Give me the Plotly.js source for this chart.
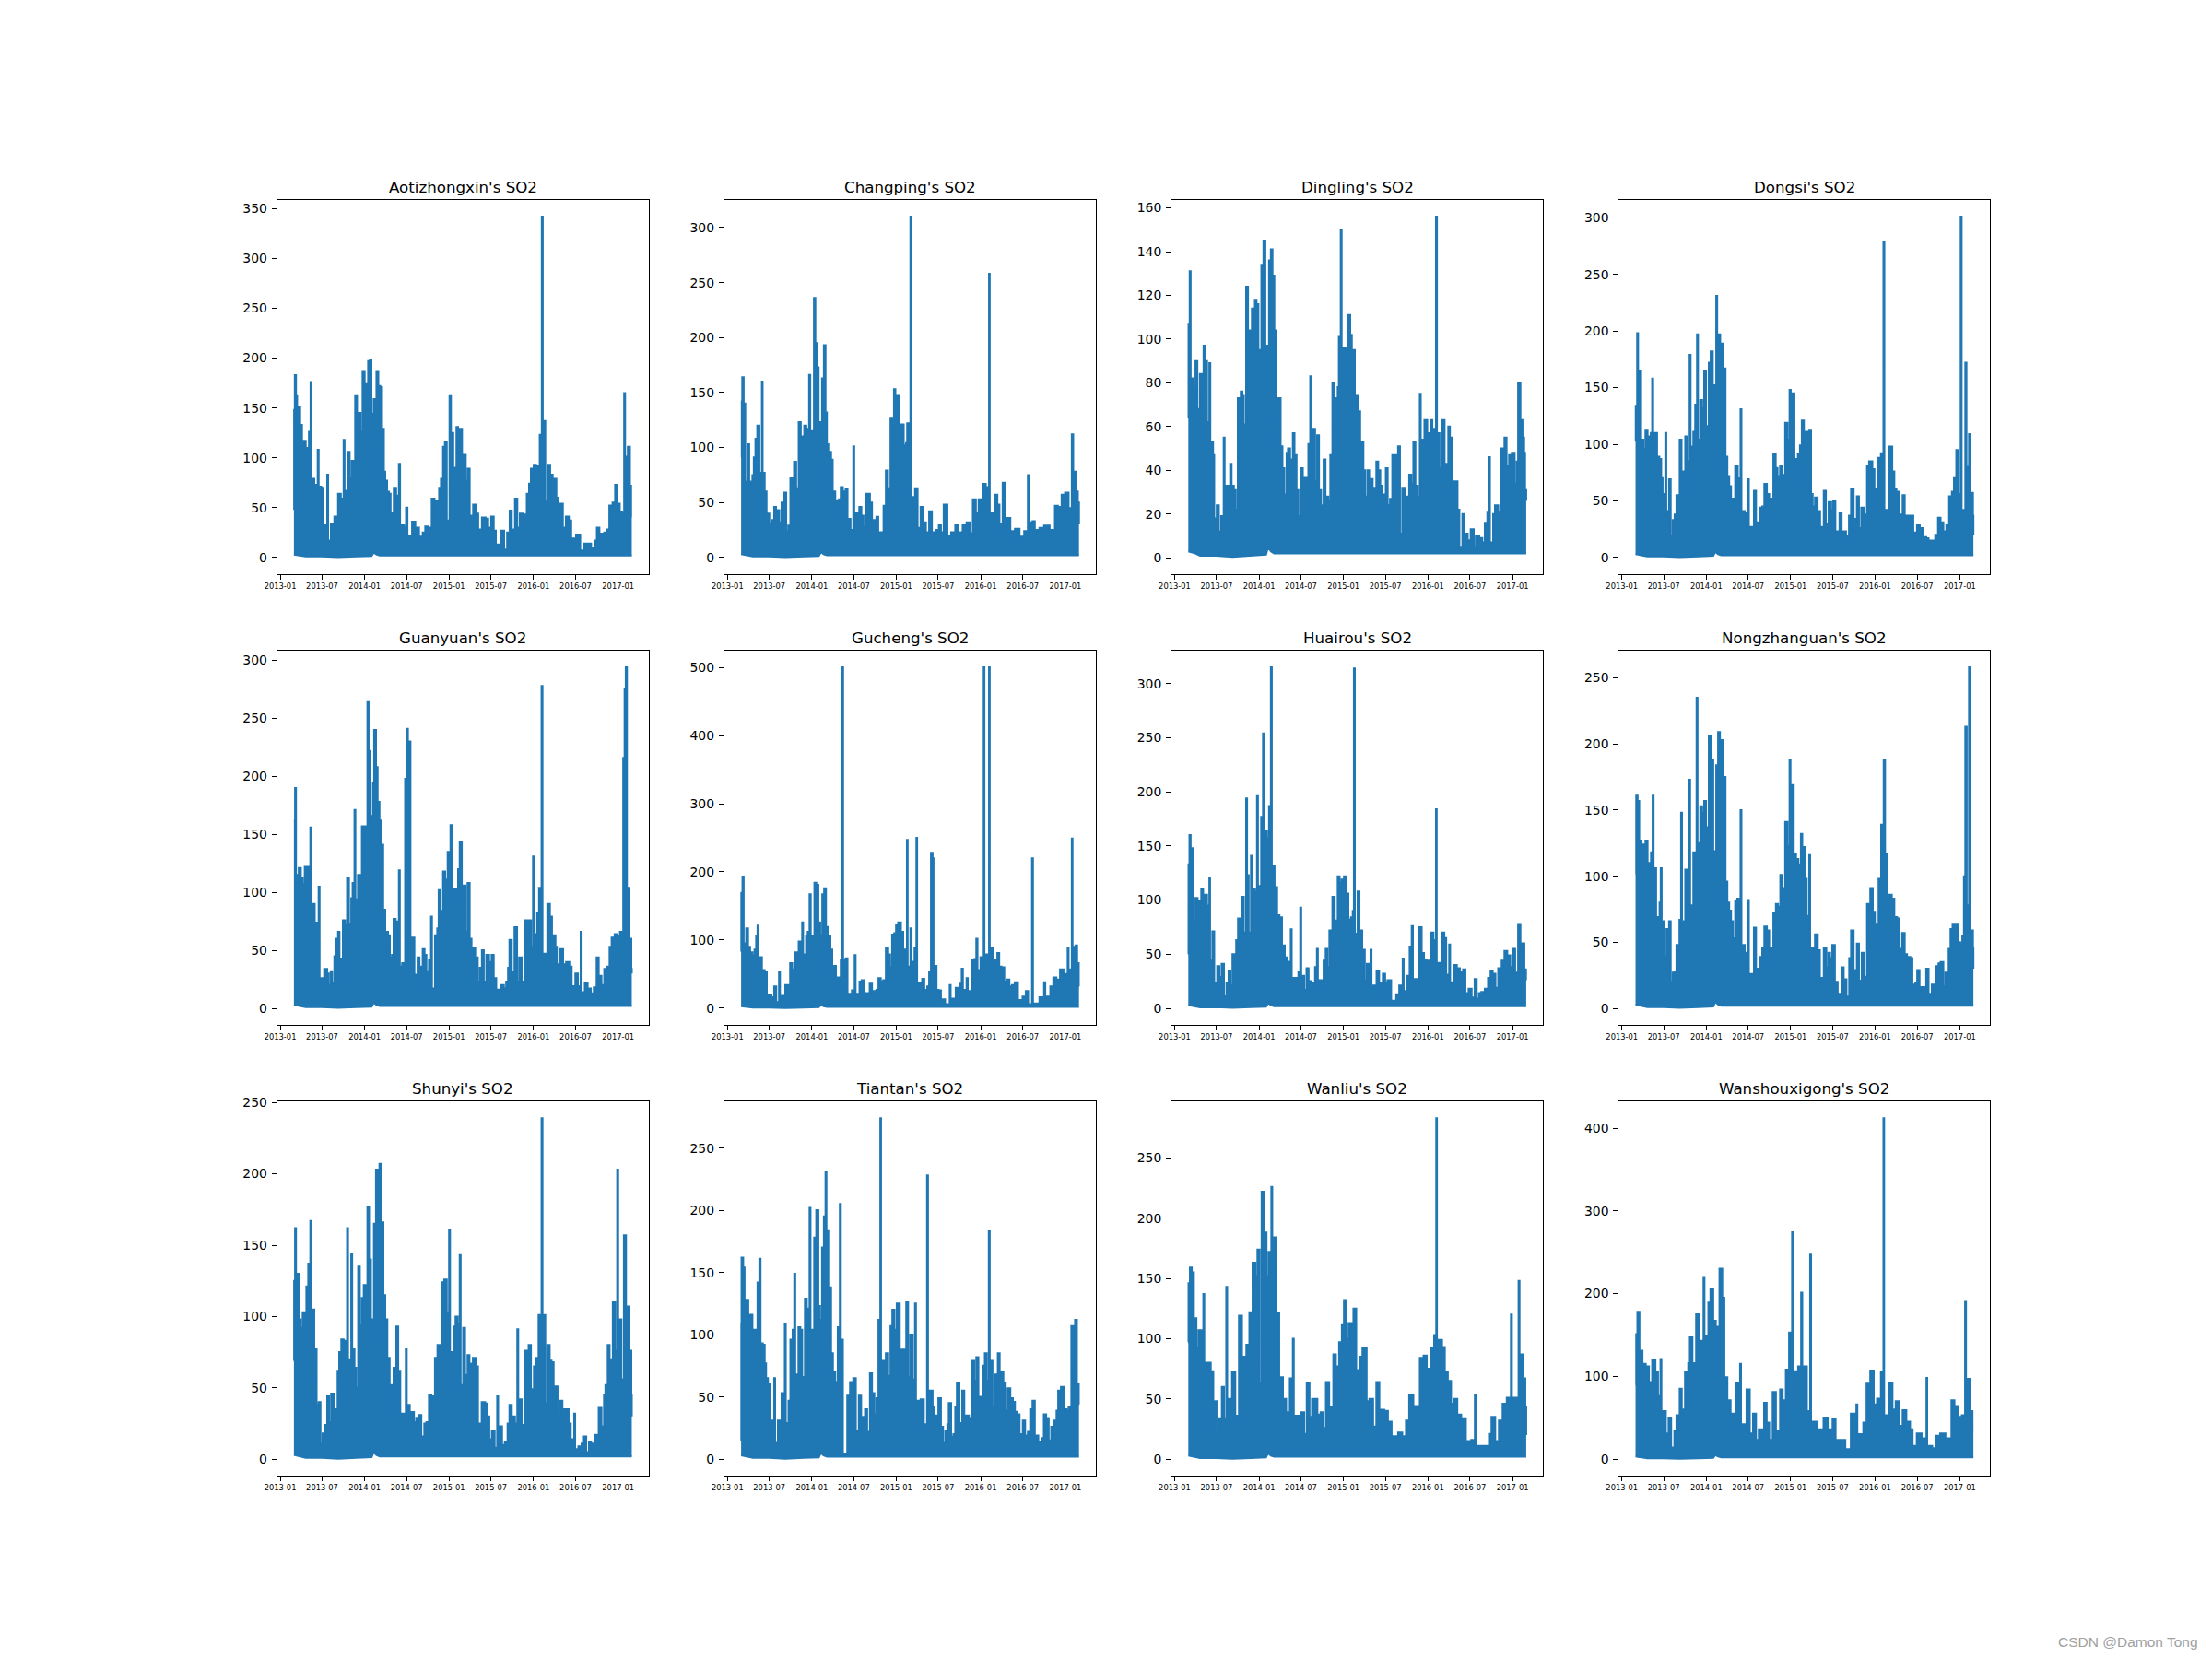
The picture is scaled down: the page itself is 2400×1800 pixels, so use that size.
<!DOCTYPE html>
<html><head><meta charset="utf-8">
<script src="https://cdn.plot.ly/plotly-3.0.1.min.js"></script>
<style>html,body{margin:0;padding:0;background:#fff}#chart{width:2400px;height:1800px}</style>
</head><body><div id="chart"></div>
<script>
// Upper envelope of each station's hourly SO2: [days since 2013-01-01, value]
const aotizhongxinPeaks=[[59,48],[60,148],[63,183],[68,162],[73,140],[80,151],[86,133],[94,79],[101,117],[110,110],[117,103],[124,126],[131,176],[134,79],[138,79],[147,73],[155,71],[162,108],[166,71],[177,70],[185,27],[193,33],[203,83],[207,17],[219,34],[234,41],[242,25],[250,64],[262,59],[274,118],[278,67],[291,106],[300,80],[309,97],[316,86],[324,162],[332,110],[339,145],[347,126],[356,187],[365,148],[372,174],[380,197],[388,198],[394,144],[404,159],[416,187],[424,172],[432,171],[440,129],[448,86],[454,77],[462,66],[470,64],[477,45],[491,70],[501,62],[513,94],[518,33],[535,30],[544,50],[550,22],[570,36],[584,30],[600,21],[616,25],[627,31],[641,30],[655,59],[667,40],[673,57],[687,70],[695,79],[704,111],[712,116],[720,37],[732,162],[738,125],[748,90],[762,131],[769,113],[777,129],[786,76],[793,103],[802,77],[811,89],[819,42],[834,53],[845,44],[856,28],[872,40],[888,39],[899,30],[912,41],[923,27],[932,13],[955,27],[968,8],[981,25],[992,47],[1001,28],[1015,59],[1025,30],[1036,44],[1048,29],[1058,43],[1066,64],[1076,74],[1084,89],[1096,93],[1106,74],[1114,92],[1122,123],[1131,342],[1135,137],[1146,56],[1157,93],[1167,83],[1178,62],[1186,79],[1194,60],[1202,39],[1211,54],[1222,30],[1235,41],[1248,37],[1258,19],[1279,23],[1297,7],[1315,14],[1331,14],[1344,10],[1359,17],[1369,30],[1380,24],[1393,11],[1401,25],[1414,28],[1423,52],[1437,55],[1448,73],[1457,54],[1468,46],[1478,45],[1487,165],[1491,101],[1503,111],[1512,72],[1517,41],[1520,41]];
const changpingPeaks=[[59,91],[62,142],[64,164],[70,140],[77,69],[88,103],[94,63],[101,69],[108,75],[114,91],[121,108],[129,120],[138,77],[149,160],[152,77],[161,60],[169,35],[174,40],[181,31],[191,34],[202,46],[210,35],[216,43],[224,32],[234,50],[246,59],[254,24],[263,29],[272,72],[280,63],[288,87],[297,63],[308,123],[317,110],[332,120],[341,117],[353,166],[358,115],[374,236],[380,195],[386,173],[394,123],[404,113],[409,163],[417,193],[424,132],[430,103],[440,96],[448,89],[455,60],[466,52],[474,42],[482,53],[490,64],[499,60],[511,62],[519,35],[532,25],[544,101],[548,41],[570,46],[579,38],[588,28],[600,58],[616,50],[625,34],[644,37],[652,23],[675,47],[685,79],[694,63],[705,127],[713,105],[720,153],[726,105],[732,147],[740,105],[750,121],[762,102],[772,104],[777,122],[785,63],[791,310],[795,55],[811,63],[822,27],[835,46],[846,32],[858,23],[872,42],[884,23],[900,25],[914,30],[923,23],[935,48],[951,20],[967,23],[977,11],[985,30],[997,23],[1017,30],[1034,32],[1050,22],[1061,53],[1074,41],[1086,53],[1097,45],[1106,67],[1117,64],[1126,59],[1131,258],[1134,41],[1155,57],[1167,48],[1176,31],[1190,68],[1200,24],[1210,36],[1223,24],[1243,26],[1263,19],[1283,24],[1299,75],[1303,32],[1319,33],[1329,25],[1349,27],[1369,29],[1393,25],[1416,47],[1429,46],[1445,57],[1460,59],[1475,45],[1489,112],[1495,78],[1505,60],[1515,50],[1520,30]];
const dinglingPeaks=[[59,64],[60,107],[65,131],[69,82],[81,78],[90,90],[98,68],[109,84],[117,77],[125,97],[131,90],[140,62],[150,89],[154,53],[166,47],[171,18],[182,24],[191,12],[201,19],[212,55],[216,33],[232,28],[240,43],[246,33],[256,31],[264,22],[273,73],[280,54],[286,76],[293,74],[299,61],[309,124],[317,92],[323,104],[334,114],[340,99],[347,118],[354,116],[362,87],[370,95],[375,134],[384,145],[392,97],[400,83],[408,136],[416,141],[423,129],[431,104],[439,73],[448,73],[458,51],[466,41],[474,29],[484,48],[490,50],[499,45],[511,57],[518,47],[527,31],[535,19],[545,41],[554,37],[570,36],[578,52],[586,83],[589,59],[599,59],[607,35],[616,56],[624,31],[633,24],[644,45],[652,28],[664,26],[673,47],[682,80],[689,73],[697,63],[705,78],[710,101],[718,150],[722,96],[733,96],[741,87],[750,111],[759,102],[766,82],[773,95],[779,74],[791,67],[802,52],[810,53],[816,40],[823,28],[833,40],[841,36],[856,32],[864,21],[872,44],[880,40],[889,33],[898,29],[913,41],[921,24],[931,27],[941,47],[951,47],[958,45],[966,51],[974,11],[984,32],[995,27],[1004,28],[1014,38],[1023,34],[1032,53],[1041,33],[1051,28],[1060,75],[1064,54],[1080,63],[1092,57],[1098,51],[1106,63],[1114,59],[1124,59],[1130,156],[1134,57],[1145,41],[1155,63],[1167,43],[1175,31],[1183,60],[1190,55],[1199,31],[1208,35],[1223,22],[1231,5],[1244,20],[1253,11],[1267,8],[1280,13],[1293,5],[1302,10],[1317,9],[1330,7],[1341,16],[1352,21],[1359,46],[1363,7],[1377,20],[1385,24],[1399,21],[1413,50],[1426,55],[1435,42],[1446,47],[1458,48],[1470,34],[1479,44],[1485,80],[1495,63],[1504,55],[1511,48],[1515,31],[1520,26]];
const dongsiPeaks=[[59,103],[60,134],[66,198],[70,165],[83,104],[93,96],[102,112],[111,107],[118,89],[125,110],[131,158],[135,110],[152,89],[162,87],[170,71],[176,56],[182,29],[188,110],[192,41],[204,69],[211,19],[220,33],[228,38],[236,55],[244,38],[250,104],[258,76],[266,60],[274,107],[282,85],[293,179],[297,98],[309,111],[317,135],[325,197],[329,104],[339,139],[347,132],[356,165],[364,116],[376,172],[384,182],[393,127],[400,152],[408,231],[412,197],[425,179],[432,189],[439,167],[448,89],[456,72],[464,63],[472,50],[480,52],[490,81],[501,70],[513,131],[517,41],[531,39],[545,69],[549,27],[571,59],[580,31],[595,44],[607,45],[616,65],[627,56],[637,34],[645,52],[655,91],[665,79],[673,72],[684,81],[693,73],[706,119],[716,104],[725,148],[730,104],[737,145],[746,87],[761,91],[770,99],[778,121],[787,67],[793,111],[802,68],[810,112],[818,56],[825,45],[835,53],[846,41],[857,27],[873,59],[882,30],[894,49],[905,42],[914,50],[923,23],[933,10],[941,39],[950,23],[958,23],[969,19],[982,37],[991,61],[1002,34],[1016,54],[1025,26],[1035,44],[1045,38],[1055,29],[1060,81],[1069,85],[1083,78],[1092,61],[1101,39],[1109,88],[1120,92],[1131,279],[1135,42],[1155,98],[1169,76],[1178,61],[1187,58],[1198,38],[1214,55],[1223,37],[1240,37],[1249,37],[1260,22],[1276,29],[1288,26],[1302,18],[1316,17],[1326,15],[1340,15],[1355,20],[1367,35],[1378,31],[1390,23],[1403,29],[1415,54],[1427,58],[1436,71],[1446,95],[1455,56],[1465,301],[1469,42],[1485,172],[1490,80],[1501,109],[1506,57],[1518,37],[1520,20]];
const guanyuanPeaks=[[59,162],[64,190],[68,115],[80,121],[89,112],[97,107],[106,122],[113,107],[121,122],[130,156],[134,90],[149,74],[157,74],[166,105],[170,26],[190,34],[203,30],[209,20],[218,32],[224,22],[234,45],[243,60],[250,66],[256,23],[263,43],[271,76],[280,72],[289,112],[297,73],[307,95],[313,108],[321,171],[325,94],[336,115],[344,115],[353,157],[364,156],[372,157],[377,264],[382,222],[389,157],[397,166],[401,194],[406,240],[414,208],[421,178],[429,162],[437,141],[445,85],[454,66],[466,63],[474,44],[483,46],[490,77],[499,75],[507,36],[513,119],[517,36],[527,39],[534,31],[540,198],[548,241],[552,230],[559,230],[563,61],[580,29],[594,44],[602,22],[610,36],[616,51],[624,46],[632,32],[643,42],[652,79],[656,17],[669,63],[679,69],[685,102],[693,84],[704,118],[713,111],[724,135],[736,158],[742,97],[750,103],[761,95],[769,120],[776,143],[785,76],[791,106],[801,66],[810,108],[819,60],[827,42],[834,52],[843,44],[854,23],[863,35],[872,50],[880,23],[891,46],[903,40],[914,46],[923,26],[934,16],[954,20],[967,17],[977,23],[985,35],[991,59],[1001,31],[1013,70],[1024,23],[1033,44],[1044,23],[1058,76],[1068,60],[1074,76],[1084,53],[1093,131],[1097,64],[1111,82],[1119,104],[1130,278],[1134,47],[1155,90],[1166,79],[1175,63],[1190,53],[1196,38],[1210,51],[1223,38],[1236,40],[1250,36],[1260,19],[1276,30],[1287,19],[1299,66],[1303,14],[1317,22],[1329,17],[1343,13],[1356,18],[1368,44],[1377,28],[1389,20],[1401,34],[1413,36],[1424,53],[1433,61],[1446,64],[1456,62],[1469,66],[1476,40],[1483,216],[1489,275],[1494,294],[1499,104],[1510,60],[1518,34],[1520,30]];
const guchengPeaks=[[59,83],[60,169],[65,193],[70,95],[81,117],[89,90],[98,82],[108,77],[117,86],[124,106],[130,121],[134,75],[149,56],[161,54],[170,20],[190,16],[202,32],[211,9],[223,53],[227,18],[250,34],[262,33],[271,66],[280,57],[291,82],[300,63],[308,98],[315,79],[323,126],[327,79],[340,106],[347,112],[355,167],[360,106],[376,184],[384,181],[393,126],[401,106],[410,167],[418,176],[426,119],[436,106],[445,86],[453,50],[459,62],[469,45],[482,41],[490,70],[497,500],[500,70],[511,73],[519,21],[530,9],[538,26],[550,78],[554,21],[571,39],[580,41],[590,16],[600,22],[615,36],[625,25],[636,21],[644,27],[653,44],[663,39],[673,41],[685,89],[695,79],[703,60],[712,108],[721,110],[729,123],[738,126],[750,112],[760,86],[769,77],[776,247],[779,61],[791,117],[796,68],[809,89],[817,250],[820,37],[833,37],[842,43],[851,27],[864,32],[872,54],[880,228],[887,220],[891,62],[904,27],[912,26],[923,13],[941,6],[961,34],[965,14],[987,30],[1004,36],[1013,58],[1018,27],[1034,44],[1039,25],[1057,70],[1068,72],[1076,102],[1081,56],[1094,75],[1108,500],[1111,79],[1125,78],[1131,500],[1134,88],[1147,59],[1157,70],[1167,81],[1175,61],[1185,60],[1197,39],[1210,42],[1219,32],[1230,34],[1242,38],[1256,12],[1276,17],[1290,25],[1300,6],[1317,220],[1321,7],[1349,16],[1369,38],[1374,17],[1396,32],[1409,45],[1422,42],[1438,57],[1453,50],[1465,40],[1471,89],[1475,57],[1489,249],[1492,90],[1505,92],[1512,66],[1519,32],[1520,32]];
const huairouPeaks=[[59,50],[60,133],[64,160],[69,148],[81,80],[90,102],[99,88],[107,99],[115,110],[123,77],[131,105],[140,95],[150,121],[153,44],[163,71],[171,23],[184,39],[193,29],[203,41],[213,11],[224,23],[233,35],[241,21],[250,50],[260,38],[266,63],[274,83],[282,47],[290,103],[299,70],[309,194],[313,123],[320,70],[330,141],[335,110],[347,108],[356,196],[360,113],[374,177],[382,254],[387,164],[399,157],[408,187],[416,315],[420,132],[432,112],[443,86],[453,84],[464,58],[476,47],[488,43],[502,73],[506,28],[525,28],[535,34],[543,93],[547,30],[560,17],[570,37],[579,25],[590,23],[599,16],[607,38],[615,55],[619,26],[635,26],[644,44],[653,55],[660,38],[669,72],[682,103],[692,81],[705,122],[713,116],[722,119],[732,122],[741,106],[751,82],[762,84],[770,90],[775,314],[779,69],[791,108],[799,72],[811,54],[822,26],[831,41],[839,36],[847,54],[851,21],[873,35],[884,23],[900,32],[910,23],[920,26],[936,7],[958,13],[971,21],[986,46],[990,16],[1006,30],[1016,57],[1025,76],[1030,27],[1045,27],[1058,75],[1068,51],[1078,45],[1088,41],[1096,44],[1106,70],[1119,63],[1130,184],[1133,42],[1154,70],[1166,65],[1174,31],[1187,59],[1191,24],[1207,40],[1220,37],[1233,34],[1247,36],[1257,14],[1271,18],[1284,10],[1297,27],[1306,9],[1316,14],[1326,15],[1341,18],[1349,6],[1355,28],[1366,35],[1375,32],[1387,19],[1399,37],[1414,44],[1426,53],[1438,49],[1451,38],[1461,55],[1472,33],[1485,78],[1495,55],[1503,60],[1512,36],[1519,26],[1520,26]];
const nongzhanguanPeaks=[[59,102],[62,161],[68,157],[75,127],[85,124],[94,123],[102,127],[111,110],[118,100],[126,118],[133,161],[137,106],[148,69],[158,65],[163,80],[168,106],[172,66],[184,39],[193,60],[204,66],[211,20],[220,27],[228,28],[236,48],[243,31],[249,67],[256,148],[260,66],[274,105],[284,83],[291,173],[295,78],[309,118],[318,117],[323,235],[327,125],[339,153],[347,148],[356,157],[364,137],[376,206],[386,188],[395,119],[408,184],[416,209],[424,175],[432,203],[439,175],[448,96],[456,80],[464,74],[472,66],[480,53],[490,81],[499,83],[513,150],[517,48],[531,42],[545,82],[549,26],[571,61],[580,30],[595,39],[607,46],[616,62],[627,59],[637,29],[645,46],[655,72],[666,79],[675,77],[685,101],[693,91],[706,141],[716,123],[725,188],[729,117],[737,169],[743,117],[753,113],[763,109],[774,132],[780,122],[791,98],[799,70],[810,116],[814,46],[827,45],[835,56],[847,44],[856,23],[873,46],[884,31],[893,42],[900,38],[910,48],[921,20],[933,11],[950,31],[959,22],[971,9],[983,38],[991,59],[1002,29],[1016,49],[1025,21],[1037,42],[1048,24],[1060,79],[1074,91],[1085,73],[1094,64],[1102,48],[1110,98],[1121,139],[1132,188],[1138,117],[1145,60],[1155,86],[1167,83],[1178,69],[1190,68],[1198,45],[1212,57],[1223,41],[1233,39],[1247,38],[1256,18],[1269,19],[1277,29],[1287,16],[1300,5],[1308,16],[1316,30],[1326,11],[1340,18],[1357,32],[1369,34],[1378,35],[1390,17],[1399,27],[1413,45],[1421,60],[1430,64],[1443,64],[1453,50],[1463,49],[1472,55],[1479,100],[1485,213],[1491,78],[1501,258],[1504,59],[1518,46],[1520,30]];
const shunyiPeaks=[[59,69],[60,125],[64,162],[68,130],[80,98],[88,92],[97,103],[105,69],[113,121],[121,137],[130,167],[135,105],[147,77],[157,38],[166,40],[174,11],[183,18],[193,24],[203,44],[211,26],[220,46],[234,35],[242,23],[248,62],[255,75],[264,84],[274,83],[282,78],[289,162],[293,70],[307,144],[311,77],[321,64],[328,50],[337,135],[344,94],[353,113],[361,122],[369,112],[377,177],[384,140],[392,98],[399,80],[405,165],[414,203],[421,144],[429,207],[437,166],[446,115],[454,98],[463,71],[473,52],[482,32],[490,64],[502,93],[510,62],[519,32],[534,32],[543,77],[547,38],[560,20],[568,33],[578,26],[588,29],[600,31],[610,16],[623,25],[632,26],[643,45],[653,44],[661,39],[669,71],[680,80],[689,74],[701,124],[709,126],[720,103],[730,161],[734,75],[749,93],[758,100],[767,95],[776,143],[780,52],[791,92],[799,59],[810,73],[818,67],[825,39],[833,71],[845,65],[855,25],[871,40],[886,39],[895,30],[904,14],[915,20],[927,8],[938,44],[942,23],[959,10],[971,12],[983,25],[991,38],[1001,30],[1015,25],[1025,91],[1029,42],[1044,24],[1058,76],[1066,60],[1074,80],[1084,49],[1097,65],[1106,71],[1117,101],[1130,239],[1134,101],[1146,39],[1155,80],[1165,69],[1173,68],[1182,38],[1190,51],[1199,30],[1210,41],[1220,35],[1234,35],[1247,25],[1256,14],[1271,32],[1275,7],[1289,9],[1303,11],[1313,16],[1323,5],[1335,12],[1344,11],[1360,17],[1377,36],[1389,23],[1400,45],[1406,52],[1416,80],[1424,68],[1431,70],[1438,110],[1448,76],[1457,203],[1461,98],[1475,56],[1486,157],[1495,102],[1503,107],[1510,76],[1518,45],[1520,30]];
const tiantanPeaks=[[59,15],[60,109],[61,162],[68,154],[74,126],[81,128],[90,116],[100,116],[108,104],[114,93],[121,104],[130,142],[138,161],[143,93],[153,92],[161,77],[167,65],[175,60],[183,28],[193,31],[202,65],[206,13],[218,31],[226,31],[234,53],[242,30],[248,109],[252,29],[264,47],[272,96],[282,104],[289,149],[293,68],[307,106],[315,104],[323,66],[335,129],[343,121],[355,202],[359,104],[375,178],[384,200],[393,123],[400,112],[409,170],[417,195],[424,231],[428,184],[440,138],[448,85],[456,70],[466,62],[477,106],[486,205],[490,96],[499,4],[509,4],[518,51],[530,62],[537,45],[544,65],[555,23],[568,51],[578,26],[586,34],[595,40],[604,22],[616,69],[625,53],[635,36],[644,49],[653,112],[661,274],[664,79],[679,69],[685,85],[695,67],[705,107],[713,120],[722,104],[732,125],[745,88],[758,88],[765,85],[773,126],[781,66],[790,100],[801,64],[811,125],[815,47],[835,48],[849,28],[863,228],[867,55],[887,42],[895,26],[903,35],[912,49],[923,26],[932,13],[942,23],[951,28],[957,45],[967,18],[977,20],[985,42],[992,61],[1003,29],[1015,55],[1024,20],[1031,35],[1044,33],[1058,79],[1067,63],[1076,82],[1085,50],[1097,41],[1106,75],[1113,85],[1121,63],[1130,183],[1134,79],[1146,42],[1157,68],[1169,85],[1177,63],[1185,70],[1193,61],[1203,39],[1212,57],[1223,49],[1234,46],[1243,38],[1252,36],[1263,20],[1277,31],[1287,19],[1299,22],[1309,40],[1319,47],[1329,19],[1344,14],[1359,17],[1368,36],[1378,33],[1389,15],[1400,26],[1412,31],[1423,39],[1430,55],[1442,58],[1454,40],[1466,39],[1475,42],[1487,107],[1495,73],[1503,112],[1511,60],[1519,44],[1520,44]];
const wanliuPeaks=[[59,97],[60,146],[66,159],[74,155],[83,117],[94,92],[103,107],[112,107],[124,137],[128,80],[145,80],[156,73],[167,48],[181,23],[193,34],[204,60],[213,34],[223,143],[227,50],[248,72],[262,36],[278,119],[291,85],[310,95],[323,122],[337,163],[349,152],[358,174],[367,63],[376,222],[385,188],[397,152],[406,172],[418,226],[422,184],[440,121],[452,68],[468,50],[482,39],[498,67],[511,100],[515,36],[548,39],[560,21],[571,63],[583,35],[594,50],[617,37],[631,39],[642,26],[654,64],[668,43],[686,87],[697,77],[711,97],[723,112],[732,132],[741,100],[752,113],[766,92],[773,125],[785,74],[800,85],[812,92],[830,48],[842,50],[858,27],[872,64],[885,41],[906,40],[922,31],[938,19],[966,22],[984,19],[1000,32],[1014,53],[1032,44],[1052,19],[1060,84],[1076,86],[1090,75],[1103,70],[1110,92],[1122,103],[1131,283],[1134,99],[1156,93],[1168,72],[1181,65],[1195,46],[1209,50],[1222,37],[1239,34],[1259,15],[1282,16],[1298,53],[1302,11],[1340,11],[1363,21],[1370,35],[1386,15],[1402,32],[1418,46],[1436,51],[1454,120],[1458,51],[1487,148],[1491,87],[1507,67],[1516,43],[1520,20]];
const wanshouxigongPeaks=[[59,90],[62,151],[67,178],[76,131],[89,115],[103,112],[117,93],[131,120],[145,105],[156,76],[167,121],[171,58],[190,31],[202,50],[213,14],[227,34],[236,53],[250,85],[259,60],[273,105],[287,116],[294,147],[305,116],[321,175],[335,143],[346,120],[353,220],[357,149],[374,189],[383,205],[395,167],[406,160],[422,230],[434,195],[443,99],[456,71],[470,55],[484,36],[495,92],[511,115],[515,42],[539,84],[553,31],[567,55],[580,23],[592,36],[615,68],[626,44],[637,23],[652,81],[666,34],[684,84],[695,71],[709,108],[723,153],[736,274],[740,106],[762,112],[775,201],[780,112],[800,58],[814,247],[818,45],[844,36],[872,50],[890,36],[911,48],[924,23],[940,23],[966,12],[990,55],[1014,66],[1018,30],[1044,44],[1058,91],[1074,107],[1089,66],[1103,73],[1120,105],[1131,412],[1134,53],[1156,92],[1170,60],[1184,70],[1200,40],[1214,59],[1230,45],[1246,36],[1257,16],[1275,31],[1296,25],[1317,98],[1320,16],[1342,13],[1360,28],[1376,31],[1399,25],[1425,71],[1438,64],[1452,51],[1470,53],[1484,190],[1488,97],[1498,97],[1507,58],[1516,34],[1520,34]];

const stations=["Aotizhongxin","Changping","Dingling","Dongsi","Guanyuan","Gucheng","Huairou","Nongzhanguan","Shunyi","Tiantan","Wanliu","Wanshouxigong"];
const peaksByStation=[aotizhongxinPeaks,changpingPeaks,dinglingPeaks,dongsiPeaks,guanyuanPeaks,guchengPeaks,huairouPeaks,nongzhanguanPeaks,shunyiPeaks,tiantanPeaks,wanliuPeaks,wanshouxigongPeaks];
const yTickSteps=[50,50,20,50,50,100,50,50,50,50,50,100];
// Lower edge of the band: [days since 2013-01-01, value]
const lowerEdge=[[59,3],[90,2],[110,1],[180,1],[250,0.4],[330,1],[395,1.5],[404,5],[416,3],[430,2],[1520,2]];
const xTickDates=["2013-01-01","2013-07-01","2014-01-01","2014-07-01","2015-01-01","2015-07-01","2016-01-01","2016-07-01","2017-01-01"];
const xTickLabels=["2013-01","2013-07","2014-01","2014-07","2015-01","2015-07","2016-01","2016-07","2017-01"];
const xRange=["2012-12-18","2017-05-13"];

const toDate=d=>new Date(Date.UTC(2013,0,1+d)).toISOString().slice(0,10);
const W=2400,H=1800,left=300,top0=216,pw=404.35,pgap=80.87,ph=407.6,vgap=81.5,lw=1.11;
const font="DejaVu Sans",blue="#1f77b4";
const traces=[],layout={width:W,height:H,margin:{l:0,r:0,t:0,b:0},paper_bgcolor:"#fff",plot_bgcolor:"#fff",showlegend:false,annotations:[],font:{family:font,color:"#000"}};

stations.forEach((name,i)=>{
  const n=i+1,sfx=i===0?"":n,col=i%4,row=Math.floor(i/4);
  const x0=left+col*(pw+pgap),yTop=top0+row*(ph+vgap),peaks=peaksByStation[i];
  const maxV=Math.max(...peaks.map(p=>p[1])),minV=0.29,pad=(maxV-minV)*0.05;
  const ticks=[];for(let v=0;v<=maxV+pad;v+=yTickSteps[i])ticks.push(v);
  const ax={showgrid:false,zeroline:false,showline:true,mirror:true,linecolor:"#000",linewidth:lw,ticks:"outside",ticklen:4.9,tickwidth:lw,tickcolor:"#000"};
  layout["xaxis"+sfx]=Object.assign({},ax,{type:"date",domain:[(x0+lw/2)/W,(x0+pw-lw/2)/W],range:xRange,anchor:"y"+sfx,tickmode:"array",tickvals:xTickDates,ticktext:xTickLabels,tickangle:0,tickfont:{family:font,size:8.33,color:"#000"}});
  layout["yaxis"+sfx]=Object.assign({},ax,{domain:[1-(yTop+ph-lw/2)/H,1-(yTop+lw/2)/H],range:[minV-pad,maxV+pad],anchor:"x"+sfx,tickmode:"array",tickvals:ticks,ticktext:ticks.map(String),tickfont:{family:font,size:13.9,color:"#000"},ticklabelstandoff:2});
  traces.push({type:"scatter",mode:"lines",xaxis:"x"+sfx,yaxis:"y"+sfx,x:lowerEdge.map(p=>toDate(p[0])),y:lowerEdge.map(p=>p[1]),line:{color:blue,width:2.08},hoverinfo:"skip"});
  traces.push({type:"scatter",mode:"lines",xaxis:"x"+sfx,yaxis:"y"+sfx,x:peaks.map(p=>toDate(p[0])),y:peaks.map(p=>p[1]),line:{color:blue,width:2.08,shape:"hv"},fill:"tonexty",fillcolor:blue,name:name+"'s SO2"});
  layout.annotations.push({xref:"paper",yref:"paper",x:(x0+pw/2)/W,y:1-yTop/H,xanchor:"center",yanchor:"bottom",yshift:1.5,showarrow:false,text:name+"'s SO2",font:{family:font,size:16.67,color:"#000"}});
});
layout.annotations.push({xref:"paper",yref:"paper",x:2387/W,y:1-1781/H,xanchor:"right",yanchor:"middle",showarrow:false,text:"CSDN @Damon Tong",font:{family:"Liberation Sans",size:15.5,color:"#a0a0a0"}});
Plotly.newPlot("chart",traces,layout,{displayModeBar:false,responsive:false});
</script></body></html>
